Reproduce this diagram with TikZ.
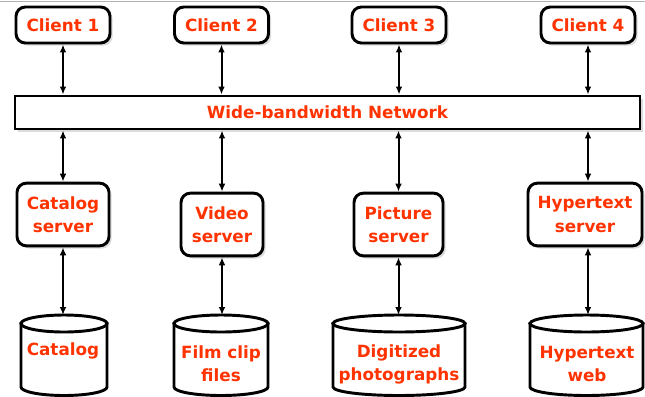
\documentclass[tikz,border=0pt]{standalone}
\usepackage{fontspec}
\setmainfont{DejaVu Sans}
\usepackage{xcolor}
\usetikzlibrary{shadows,arrows.meta}
\definecolor{txtcol}{rgb}{1,0.2,0}
\definecolor{shcol}{rgb}{0.55,0.55,0.55}

\tikzset{
	boxtxt/.style={text=txtcol, font=\bfseries\fontsize{12.6}{17.3}\selectfont, align=center},
	roundbox/.style={boxtxt, draw, line width=2.2pt, rounded corners=7pt, fill=white,
		drop shadow={shadow xshift=2pt, shadow yshift=-2pt, opacity=0.3, fill=shcol}},
	netbox/.style={boxtxt, draw, line width=2.2pt, fill=white,
		drop shadow={shadow xshift=2pt, shadow yshift=-2pt, opacity=0.3, fill=shcol}},
	storeline/.style={draw, line width=2.2pt, fill=white},
	link/.style={{Latex[length=6pt,width=5pt]}-{Latex[length=6pt,width=5pt]}, line width=1.5pt}
}

\begin{document}
\begin{tikzpicture}[x=0.75pt,y=-0.75pt]
	
	% Cadre de l'image
	\useasboundingbox (0,0) rectangle (645,396);
	\clip (0,0) rectangle (645,396);
	\draw[gray!60, line width=0.8pt] (0,1.5) -- (645,1.5);
	
	% Clients
	\node[roundbox, minimum width=70.5pt, minimum height=27pt] (c1) at (63,25) {Client 1};
	\node[roundbox, minimum width=70.5pt, minimum height=27pt] (c2) at (221.5,25) {Client 2};
	\node[roundbox, minimum width=70.5pt, minimum height=27pt] (c3) at (399,25) {Client 3};
	\node[roundbox, minimum width=70.5pt, minimum height=27pt] (c4) at (588,25) {Client 4};
	
	% Reseau
	\node[netbox, minimum width=468.75pt, minimum height=24.75pt] (net) at (327.5,112.5) {Wide-bandwidth Network};
	
	% Serveurs
	\node[roundbox, minimum width=69pt, minimum height=47pt] (srvcat) at (63,214.5) {Catalog\\server};
	\node[roundbox, minimum width=61.5pt, minimum height=47pt] (srvvid) at (222,224.5) {Video\\server};
	\node[roundbox, minimum width=66.75pt, minimum height=47pt] (srvpic) at (398.5,224.5) {Picture\\server};
	\node[roundbox, minimum width=85.5pt, minimum height=47pt] (srvhyp) at (585,214.5) {Hypertext\\server};
	
	% Bases de donnees (coupees en bas)
	\path[storeline] (21,323.5) -- (21,387) arc (180:0:43 and 8.5) -- (107,323.5) -- cycle;
	\path[storeline] (64,323.5) ellipse (43 and 8.5);
	\path[storeline] (174,323.5) -- (174,387) arc (180:0:47 and 8.5) -- (268,323.5) -- cycle;
	\path[storeline] (221,323.5) ellipse (47 and 8.5);
	\path[storeline] (333,323.5) -- (333,387) arc (180:0:66 and 8.5) -- (465,323.5) -- cycle;
	\path[storeline] (399,323.5) ellipse (66 and 8.5);
	\path[storeline] (530,323.5) -- (530,387) arc (180:0:56.5 and 8.5) -- (643,323.5) -- cycle;
	\path[storeline] (586.5,323.5) ellipse (56.5 and 8.5);
	
	\coordinate (dbcat) at (64,315);
	\coordinate (dbfilm) at (221,315);
	\coordinate (dbpic) at (399,315);
	\coordinate (dbhyp) at (586.5,315);
	
	\node[boxtxt] (tcat) at (63,351) {Catalog};
	\node[boxtxt] (tfilm) at (221,364) {Film clip\\files};
	\node[boxtxt] (tpic) at (399,364) {Digitized\\photographs};
	\node[boxtxt] (thyp) at (587,364) {Hypertext\\web};
	
	% Fleches clients -- reseau
	\draw[link] (c1) -- (c1 |- net.north);
	\draw[link] (c2) -- (c2 |- net.north);
	\draw[link] (c3) -- (c3 |- net.north);
	\draw[link] (c4) -- (c4 |- net.north);
	
	% Fleches reseau -- serveurs
	\draw[link] (net.south -| srvcat) -- (srvcat);
	\draw[link] (net.south -| srvvid) -- (srvvid);
	\draw[link] (net.south -| srvpic) -- (srvpic);
	\draw[link] (net.south -| c4) -- (c4 |- srvhyp.north);
	
	% Fleches serveurs -- bases
	\draw[link] (srvcat) -- (srvcat |- dbcat);
	\draw[link] (srvvid) -- (srvvid |- dbfilm);
	\draw[link] (srvpic) -- (srvpic |- dbpic);
	\draw[link] (c4 |- srvhyp.south) -- (c4 |- dbhyp);
	
\end{tikzpicture}
\end{document}
